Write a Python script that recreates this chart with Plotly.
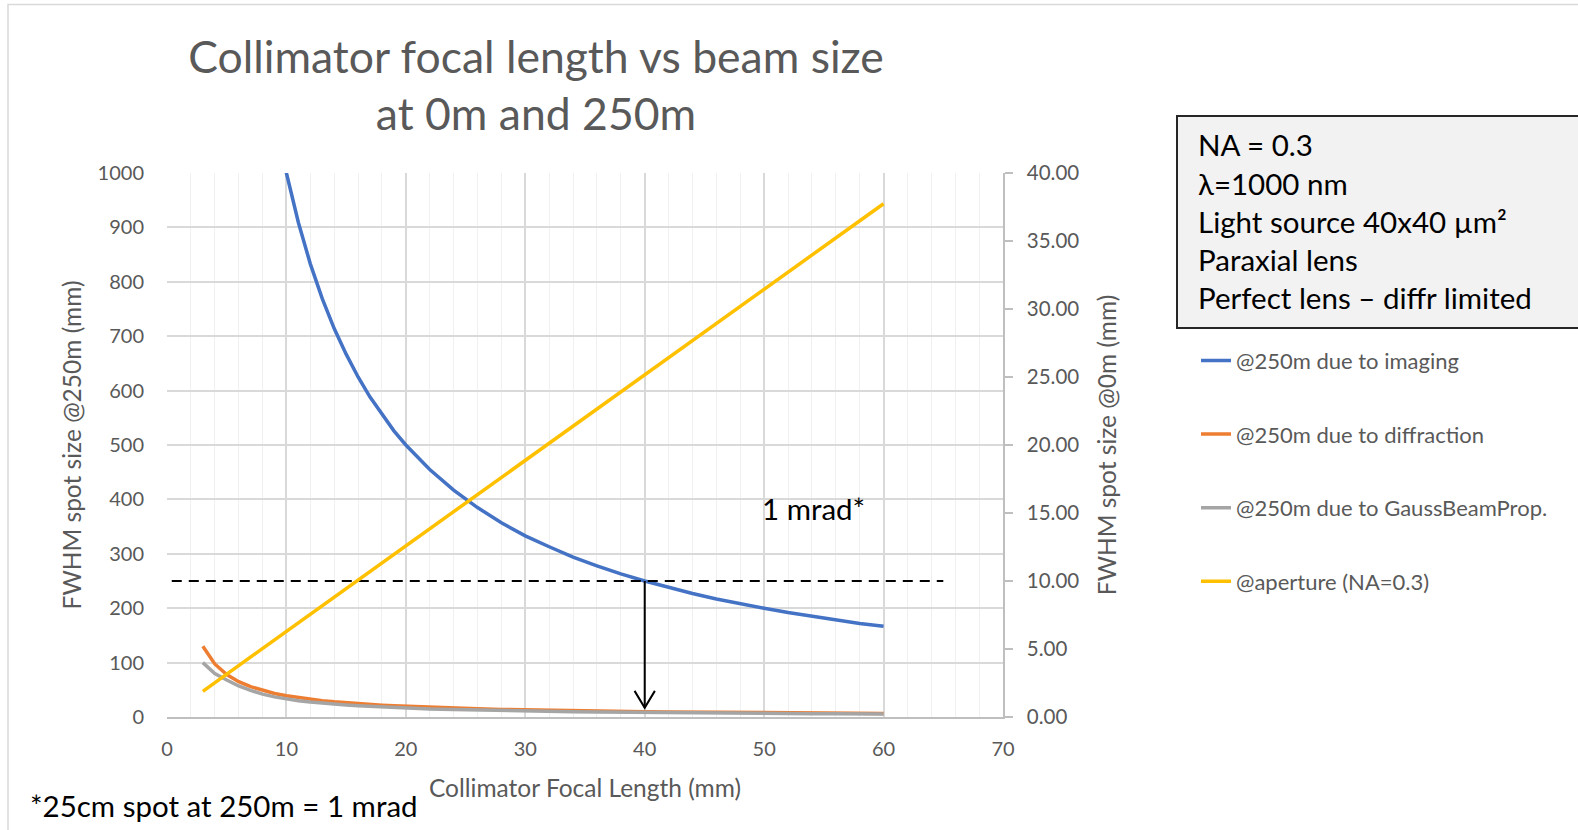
import plotly.graph_objects as go

# ---- data ----
focal_mm = [3, 4, 5, 6, 7, 8, 9, 10, 11, 12, 13, 14, 15, 16, 17, 18, 19, 20, 22, 24, 26, 28, 30,
            32, 34, 36, 38, 40, 42, 44, 46, 48, 50, 52, 54, 56, 58, 60]
imaging_250m = [3333, 2500, 2000, 1667, 1429, 1250, 1111, 1000, 909, 833, 769, 714, 667, 625, 588,
                556, 526, 500, 455, 417, 385, 357, 333, 313, 294, 278, 263, 250, 238, 227, 217, 208,
                200, 192, 185, 179, 172, 167]
diffraction_250m = [130, 97.5, 78, 65, 55.7, 48.8, 43.3, 39, 35.5, 32.5, 30, 27.9, 26, 24.4, 22.9,
                    21.7, 20.5, 19.5, 17.7, 16.3, 15, 13.9, 13, 12.2, 11.5, 10.8, 10.3, 9.75, 9.29,
                    8.86, 8.48, 8.13, 7.8, 7.5, 7.22, 6.96, 6.72, 6.5]
gauss_250m = [100, 80, 68, 57, 49, 42, 37, 33, 30, 27.5, 25.3, 23.5, 22, 20.6, 19.4, 18.3, 17.3,
              16.4, 14.9, 13.7, 12.6, 11.7, 10.9, 10.2, 9.6, 9.1, 8.6, 8.2, 7.8, 7.4, 7.1, 6.8, 6.5,
              6.3, 6.05, 5.8, 5.6, 5.4]
aperture_0m = [1.89, 2.52, 3.15, 3.77, 4.40, 5.03, 5.66, 6.29, 6.92, 7.55, 8.18, 8.81, 9.43, 10.06,
               10.69, 11.32, 11.95, 12.58, 13.84, 15.10, 16.35, 17.61, 18.87, 20.13, 21.39, 22.64,
               23.90, 25.16, 26.42, 27.68, 28.93, 30.19, 31.45, 32.71, 33.97, 35.22, 36.48, 37.74]

series_names = ["@250m due to imaging", "@250m due to diffraction",
                "@250m due to GaussBeamProp.", "@aperture (NA=0.3)"]
series_colors = ["#4472C4", "#ED7D31", "#A5A5A5", "#FFC000"]

# 1 mrad reference line and arrow
mrad_line_x = [0.4, 65]
mrad_line_y = [250, 250]
arrow_x = [40, 40]
arrow_y = [250, 17]
arrowhead_x = [39.15, 40, 40.85]
arrowhead_y = [48, 17, 48]

info_lines = ["NA = 0.3", "λ=1000 nm", "Light source 40x40 µm²", "Paraxial lens",
              "Perfect lens – diffr limited"]

FONT = "Lato"
GREY = "#595959"

# plot area in pixels
L, R, T, B = 167, 1003, 173, 717
W, H = 1578, 830


def px(xp):
    return (xp - L) / (R - L)


def py(yp):
    return (B - yp) / (B - T)


fig = go.Figure()
for name, vals, col in zip(series_names[:3], [imaging_250m, diffraction_250m, gauss_250m],
                           series_colors[:3]):
    fig.add_trace(go.Scatter(x=focal_mm, y=vals, mode="lines", name=name,
                             line=dict(color=col, width=3.5), legendgroup=name))
fig.add_trace(go.Scatter(x=focal_mm, y=aperture_0m, mode="lines", name=series_names[3],
                         line=dict(color=series_colors[3], width=3.5), yaxis="y2",
                         legendgroup=series_names[3]))

fig.add_trace(go.Scatter(x=mrad_line_x, y=mrad_line_y, mode="lines", showlegend=False,
                         line=dict(color="black", width=2, dash="10px,7px"), hoverinfo="skip"))
fig.add_trace(go.Scatter(x=arrow_x, y=arrow_y, mode="lines", showlegend=False,
                         line=dict(color="black", width=2), hoverinfo="skip"))
fig.add_trace(go.Scatter(x=arrowhead_x, y=arrowhead_y, mode="lines", showlegend=False,
                         line=dict(color="black", width=2), hoverinfo="skip"))

TXT = 29.5
annotations = []
annotations.append(dict(x=54.1, y=383, xref="x", yref="y", text="1 mrad*", showarrow=False,
                        font=dict(family=FONT, size=TXT, color="black")))
line_ys = [145, 183.2, 221.4, 259.7, 297.9]
for t, yy in zip(info_lines, line_ys):
    annotations.append(dict(x=px(1196), y=py(yy), xref="paper", yref="paper", text=t,
                            showarrow=False, xanchor="left", yanchor="middle",
                            font=dict(family=FONT, size=TXT, color="black")))
annotations.append(dict(x=px(28), y=py(805), xref="paper", yref="paper",
                        text="*25cm spot at 250m = 1 mrad", showarrow=False, xanchor="left",
                        yanchor="middle", font=dict(family=FONT, size=TXT, color="black")))

shapes = [
    # chart-area border
    dict(type="rect", xref="paper", yref="paper", x0=px(8), x1=px(1600), y0=py(850), y1=py(4.5),
         line=dict(color="#D9D9D9", width=1.5), fillcolor="rgba(0,0,0,0)", layer="below"),
    # info box
    dict(type="rect", xref="paper", yref="paper", x0=px(1177), x1=px(1600), y0=py(328), y1=py(116),
         line=dict(color="#262626", width=2), fillcolor="#F2F2F2", layer="below"),
]

AX_T = 24.5
fig.update_layout(
    width=W, height=H,
    margin=dict(l=L, r=W - R, t=T, b=H - B, pad=0),
    paper_bgcolor="white", plot_bgcolor="white",
    font=dict(family=FONT, size=20, color=GREY),
    title=dict(text="Collimator focal length vs beam size<br>at 0m and 250m",
               x=px(536), xref="paper", xanchor="center",
               y=1 - 72.5 / H, yref="container", yanchor="middle",
               font=dict(family=FONT, size=44.5, color=GREY)),
    xaxis=dict(range=[0, 70], dtick=10, tick0=0, showgrid=True, gridcolor="#D9D9D9", gridwidth=1.5,
               minor=dict(dtick=2, showgrid=True, gridcolor="#F0F0F0", gridwidth=1.2),
               showline=True, linecolor="#BFBFBF", linewidth=1.5, zeroline=False, ticks="",
               ticklabelstandoff=13,
               title=dict(text="Collimator Focal Length (mm)", standoff=21,
                          font=dict(family=FONT, size=AX_T, color=GREY)),
               tickfont=dict(family=FONT, size=20, color=GREY)),
    yaxis=dict(range=[0, 1000], dtick=100, showgrid=True, gridcolor="#D9D9D9", gridwidth=1.5,
               zeroline=False, showline=False, ticks="", ticklabelstandoff=22,
               title=dict(text="FWHM spot size @250m (mm)", standoff=9,
                          font=dict(family=FONT, size=AX_T, color=GREY)),
               tickfont=dict(family=FONT, size=20, color=GREY)),
    yaxis2=dict(range=[0, 40], dtick=5, overlaying="y", side="right", showgrid=False,
                zeroline=False, showline=True, linecolor="#BFBFBF", linewidth=1.5,
                ticks="outside", ticklen=8, tickcolor="#BFBFBF", tickwidth=1.5,
                tickformat=".2f", ticklabelstandoff=10,
                title=dict(text="FWHM spot size @0m (mm)", standoff=20,
                           font=dict(family=FONT, size=AX_T, color=GREY)),
                tickfont=dict(family=FONT, size=20.5, color=GREY)),
    legend=dict(x=px(1196), y=py(339.7), xanchor="left", yanchor="top", tracegroupgap=42,
                font=dict(family=FONT, size=22, color=GREY), bgcolor="rgba(0,0,0,0)"),
    annotations=annotations,
    shapes=shapes,
    showlegend=True,
)

fig.write_html("out.html", config={"displayModeBar": False},
               post_script="document.body.style.margin='0';")
